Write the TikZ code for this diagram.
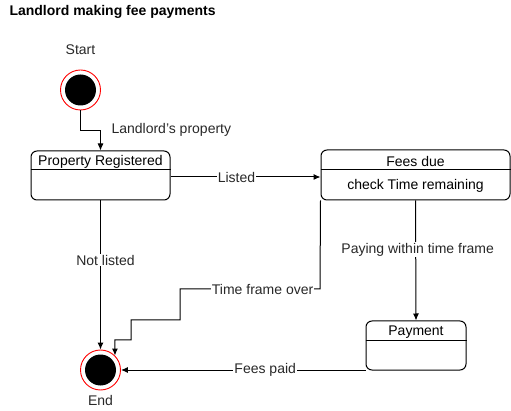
\documentclass[tikz,border=0pt]{standalone}
\usepackage{fontspec}
\setmainfont{Liberation Sans}
\usepackage{tikz}
\usetikzlibrary{arrows.meta,positioning,calc}
\definecolor{RingRed}{RGB}{255,0,0}
\definecolor{LabelGray}{RGB}{40,40,40}
\tikzset{
  statebox/.style={draw, rounded corners=6pt, line width=1pt, fill=white},
  ringnode/.style={circle, draw=RingRed, line width=0.9pt, fill=white, minimum size=40pt, inner sep=0pt},
  dotnode/.style={circle, fill=black, minimum size=31pt, inner sep=0pt},
  arr/.style={-{Latex[length=7pt,width=6pt]}, line width=1pt},
  lbl/.style={fill=white, inner sep=1pt, text=LabelGray},
}
\begin{document}
\begin{tikzpicture}[x=1pt,y=-1pt,font=\fontsize{14}{16}\selectfont]
      \useasboundingbox (0,0) rectangle (511,411);
      \node[anchor=west, font=\fontsize{14}{16}\selectfont\bfseries] (title) at (6,12) {Landlord making fee payments};
      % start and end states
      \node[ringnode] (startring) at (80.5,90) {};
      \node[dotnode] (startdot) at (startring) {};
      \node[text=LabelGray] (startlbl) at (80.5,50) {Start};
      \node[ringnode] (endring) at (100.5,370) {};
      \node[dotnode] (enddot) at (endring) {};
      \node[text=LabelGray] (endlbl) at (100.5,400) {End};
      % states
      \node[statebox, minimum width=139pt, minimum height=49pt] (reg) at (100.5,175.5) {};
      \node (regname) at (100.5,161.5) {Property Registered};
      \draw[line width=1pt] (reg.west |- 0,170) -- (reg.east |- 0,170);
      \node[statebox, minimum width=189pt, minimum height=50pt] (fees) at (415.5,175) {};
      \node (feesname) at (415.5,161.5) {Fees due};
      \node (feescheck) at (415.5,185.5) {check Time remaining};
      \draw[line width=1pt] (fees.west |- 0,170) -- (fees.east |- 0,170);
      \node[statebox, minimum width=100pt, minimum height=49pt] (pay) at (416,345.5) {};
      \node (payname) at (416,332) {Payment};
      \draw[line width=1pt] (pay.west |- 0,341) -- (pay.east |- 0,341);
      % transitions
      \draw[arr] (startring.south) -- ++(0,20) -| (reg.north);
      \node[anchor=west, text=LabelGray] (proplbl) at (108,130) {Landlord's property};
      \draw[arr] (reg.east |- 0,177) -- node[lbl, pos=0.44] {Listed} (fees.west |- 0,177);
      \draw[arr] (reg.south) -- node[lbl, pos=0.4, xshift=5pt] {Not listed} (endring.north);
      \draw[arr] (fees.south) -- node[lbl, pos=0.41, xshift=2pt] {Paying within time frame} (pay.north);
      \draw[arr] (fees.south west) -- (320,289) -- node[lbl, pos=0.41] {Time frame over} (180,289)
        -- (180,320) -- (131,320) -- (131,340) -- (endring.north east |- 0,340) -- (endring.north east);
      \draw[arr] (pay.south west |- endring.east) -- node[lbl, pos=0.41] {Fees paid} (endring.east);
    \end{tikzpicture}
\end{document}
